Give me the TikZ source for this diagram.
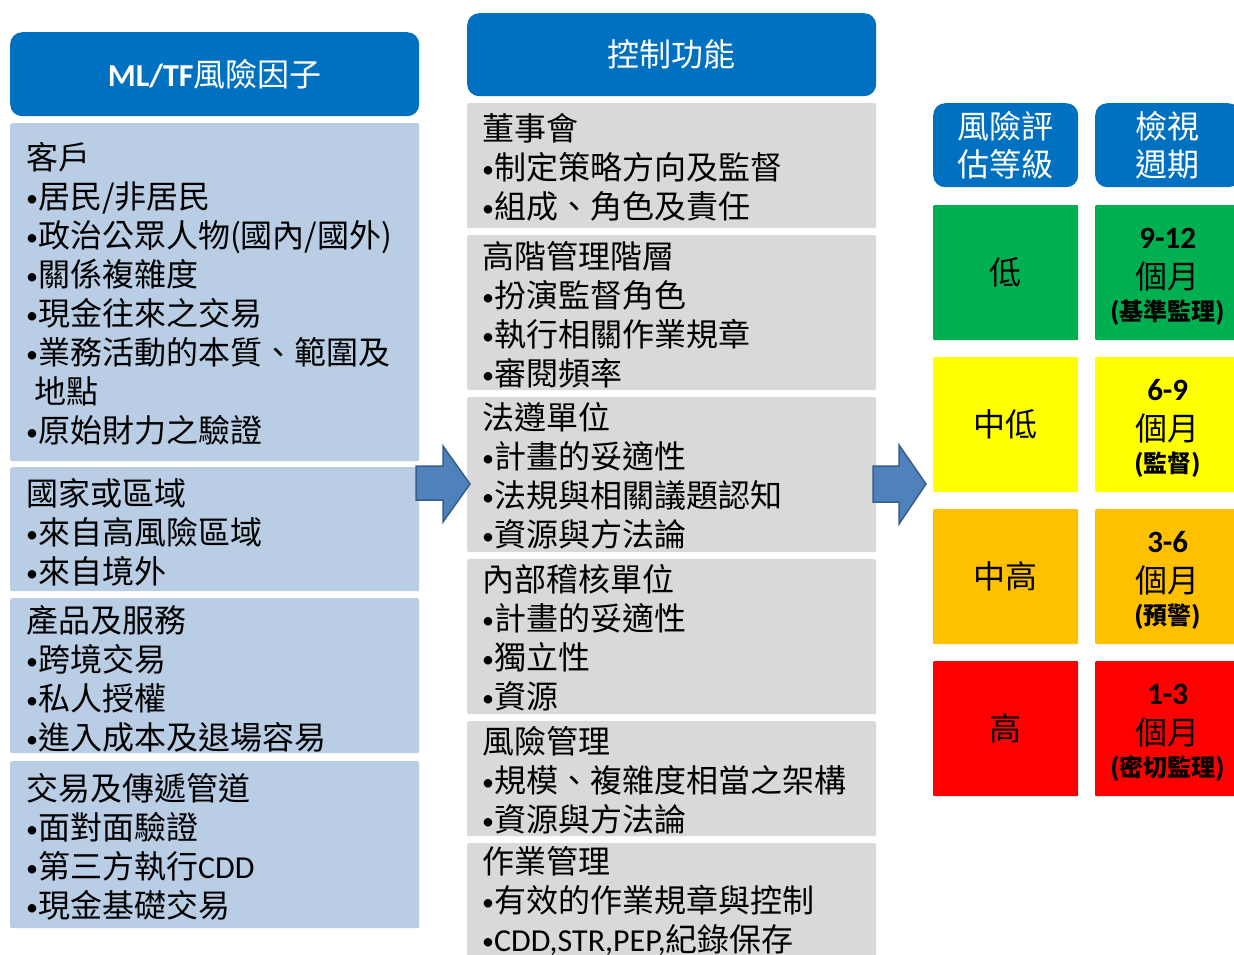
\documentclass[tikz,border=0pt]{standalone}
\usepackage{fontspec}
\setmainfont{Carlito}
\newfontfamily\cjk{Noto Sans CJK TC}
\newfontfamily\lat{Carlito}
\newcommand\bulx{\raisebox{1.5pt}{\lat\fontsize{24}{24}\selectfont •}}
\definecolor{hdrblue}{HTML}{0070C0}
\definecolor{lblue}{HTML}{B9CDE5}
\definecolor{mgray}{HTML}{D9D9D9}
\definecolor{arrfill}{HTML}{4F81BD}
\definecolor{arrline}{HTML}{385D8A}
\definecolor{lvgreen}{HTML}{00B050}
\definecolor{lvyellow}{HTML}{FFFF00}
\definecolor{lvorange}{HTML}{FFC000}
\definecolor{lvred}{HTML}{FF0000}
\begin{document}
\begin{tikzpicture}[x=1pt,y=-1pt,
  hdr/.style={fill=hdrblue, rounded corners=12pt, anchor=north west, inner sep=0pt, text=white,
    font=\cjk\fontsize{32}{38}\selectfont, align=center},
  lbox/.style={fill=lblue, anchor=north west, inner sep=0pt, minimum width=409pt, rounded corners=2pt},
  mbox/.style={fill=mgray, anchor=north west, inner sep=0pt, minimum width=409pt, rounded corners=2pt},
  txt/.style={anchor=north west, inner sep=0pt, align=left, text=black,
    font=\cjk\fontsize{32}{39}\selectfont},
  lvbox/.style={anchor=north west, inner sep=0pt, minimum width=145pt, minimum height=135pt,
    rounded corners=1pt, font=\cjk\fontsize{32}{38}\selectfont, text=black},
  pdbox/.style={anchor=north west, inner sep=0pt, minimum width=145pt, minimum height=135pt,
    rounded corners=1pt},
  pdtxt/.style={anchor=center, inner sep=0pt, align=center, text=black,
    font=\cjk\fontsize{32}{37}\selectfont},
  blockarrow/.style={fill=arrfill, draw=arrline, line width=1.5pt, line join=miter}
]
\fill[white] (0,0) rectangle (1234,954);
\useasboundingbox (0,0) rectangle (1234,954);

% ---------- left column ----------
\node[hdr, minimum width=409pt, minimum height=84pt] (lhdr) at (10,32) {{\lat\bfseries ML/TF}風險因子};
\node[lbox, minimum height=338pt] (cust) at (10,123) {};
\node[lbox, minimum height=124pt] (ctry) at (10,467) {};
\node[lbox, minimum height=155pt] (prod) at (10,598) {};
\node[lbox, minimum height=167pt] (chan) at (10,761) {};

\node[txt] (custt) at (26,142) {客戶\\
\bulx 居民/非居民\\
\bulx 政治公眾人物(國內/國外)\\
\bulx 關係複雜度\\
\bulx 現金往來之交易\\
\bulx 業務活動的本質、範圍及\\
\hspace*{8pt}地點\\
\bulx 原始財力之驗證};
\node[txt] (ctryt) at (26,478) {國家或區域\\
\bulx 來自高風險區域\\
\bulx 來自境外};
\node[txt] (prodt) at (26,605) {產品及服務\\
\bulx 跨境交易\\
\bulx 私人授權\\
\bulx 進入成本及退場容易};
\node[txt] (chant) at (26,773) {交易及傳遞管道\\
\bulx 面對面驗證\\
\bulx 第三方執行{\lat CDD}\\
\bulx 現金基礎交易};

% ---------- middle column ----------
\node[hdr, minimum width=409pt, minimum height=83pt] (mhdr) at (467,13) {控制功能};
\node[mbox, minimum height=125pt] (board) at (467,103) {};
\node[mbox, minimum height=155pt] (senior) at (467,235) {};
\node[mbox, minimum height=155pt] (compl) at (467,397) {};
\node[mbox, minimum height=155pt] (audit) at (467,559) {};
\node[mbox, minimum height=115pt] (risk) at (467,721) {};
\node[mbox, minimum height=130pt] (ops) at (467,843) {};

\node[txt] (boardt) at (482,113) {董事會\\
\bulx 制定策略方向及監督\\
\bulx 組成、角色及責任};
\node[txt] (seniort) at (482,241) {高階管理階層\\
\bulx 扮演監督角色\\
\bulx 執行相關作業規章\\
\bulx 審閱頻率};
\node[txt] (complt) at (482,402) {法遵單位\\
\bulx 計畫的妥適性\\
\bulx 法規與相關議題認知\\
\bulx 資源與方法論};
\node[txt] (auditt) at (482,564) {內部稽核單位\\
\bulx 計畫的妥適性\\
\bulx 獨立性\\
\bulx 資源};
\node[txt] (riskt) at (482,726) {風險管理\\
\bulx 規模、複雜度相當之架構\\
\bulx 資源與方法論};
\node[txt] (opst) at (482,846) {作業管理\\
\bulx 有效的作業規章與控制\\
\bulx {\lat CDD,STR,PEP,}紀錄保存};

% ---------- block arrows ----------
\draw[blockarrow] (416,466) -- (443,466) -- (443,446) -- (470,484) -- (443,522) -- (443,500) -- (416,500) -- cycle;
\draw[blockarrow] (873,466) -- (899,466) -- (899,445) -- (926,484) -- (899,524) -- (899,502) -- (873,502) -- cycle;

% ---------- right columns ----------
\node[hdr, minimum width=145pt, minimum height=84pt] (lvhdr) at (933,103) {風險評\\估等級};
\node[hdr, minimum width=145pt, minimum height=84pt] (pdhdr) at (1095,103) {檢視\\週期};

\node[lvbox, fill=lvgreen]  (lv1) at (933,205) {低};
\node[lvbox, fill=lvyellow] (lv2) at (933,357) {中低};
\node[lvbox, fill=lvorange] (lv3) at (933,509) {中高};
\node[lvbox, fill=lvred]    (lv4) at (933,661) {高};

\node[pdbox, fill=lvgreen]  (pd1) at (1095,205) {};
\node[pdbox, fill=lvyellow] (pd2) at (1095,357) {};
\node[pdbox, fill=lvorange] (pd3) at (1095,509) {};
\node[pdbox, fill=lvred]    (pd4) at (1095,661) {};

\node[pdtxt] (pd1t) at ([yshift=-4pt]pd1.center) {{\lat\bfseries\fontsize{31}{31}\selectfont 9-12}\\[3pt]個月\\[-5pt]{\bfseries\fontsize{24}{24}\selectfont(基準監理)}};
\node[pdtxt] (pd2t) at ([yshift=-4pt]pd2.center) {{\lat\bfseries\fontsize{31}{31}\selectfont 6-9}\\[3pt]個月\\[-5pt]{\bfseries\fontsize{24}{24}\selectfont(監督)}};
\node[pdtxt] (pd3t) at ([yshift=-4pt]pd3.center) {{\lat\bfseries\fontsize{31}{31}\selectfont 3-6}\\[3pt]個月\\[-5pt]{\bfseries\fontsize{24}{24}\selectfont(預警)}};
\node[pdtxt] (pd4t) at ([yshift=-4pt]pd4.center) {{\lat\bfseries\fontsize{31}{31}\selectfont 1-3}\\[3pt]個月\\[-5pt]{\bfseries\fontsize{24}{24}\selectfont(密切監理)}};
\end{tikzpicture}
\end{document}
